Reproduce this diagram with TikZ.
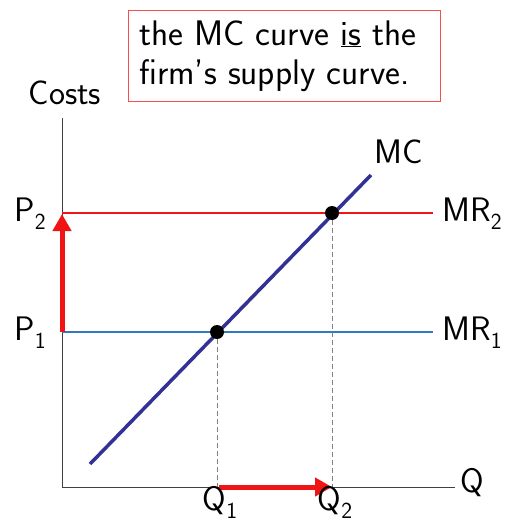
\documentclass[tikz,border=0pt]{standalone}
\usetikzlibrary{arrows.meta}
\definecolor{mrred}{RGB}{240,20,20}
\definecolor{mrblue}{RGB}{50,120,190}
\definecolor{mcblue}{RGB}{50,50,150}
\definecolor{boxred}{RGB}{245,80,80}
\newcommand{\lowsub}[1]{\raisebox{-8pt}{\fontsize{23}{23}\selectfont #1}}
\tikzset{
  lbl/.style={font=\sffamily\fontsize{34}{34}\selectfont, inner sep=0pt, anchor=base},
  axisline/.style={draw=black!75, line width=0.8pt},
  mrtwo/.style={draw=mrred, line width=2.5pt},
  mrone/.style={draw=mrblue, line width=2.5pt},
  mcline/.style={draw=mcblue, line width=3.5pt},
  guide/.style={draw=black!50, dashed, line width=0.8pt, dash pattern=on 5pt off 3pt},
  shiftarrow/.style={draw=mrred, line width=5pt, -{Triangle[length=17pt,width=18pt]}},
  eqdot/.style={circle, fill=black, minimum size=14pt, inner sep=0pt},
}
\begin{document}
\begin{tikzpicture}[x=1pt,y=-1pt]
\useasboundingbox (0,0) rectangle (510,522);
\fill[white] (0,0) rectangle (510,522);
% axes
\coordinate (O) at (62,487);
\coordinate (ytop) at (62,118);
\coordinate (xend) at (455,487);
\draw[axisline] (ytop) -- (O) -- (xend);
% MR lines
\coordinate (mr2s) at (62,213);
\coordinate (mr2e) at (433,213);
\coordinate (mr1s) at (62,332);
\coordinate (mr1e) at (433,332);
\draw[mrtwo] (mr2s) -- (mr2e);
\draw[mrone] (mr1s) -- (mr1e);
% MC
\coordinate (mcs) at (90,464);
\coordinate (mce) at (371,175);
\draw[mcline] (mcs) -- (mce);
% equilibrium dots
\node[eqdot] (e1) at (217,332) {};
\node[eqdot] (e2) at (332,213) {};
\coordinate (q1) at (217,487);
\coordinate (q2) at (332,487);
\draw[guide] (e1) -- (q1);
\draw[guide] (e2) -- (q2);
% shift arrows
\coordinate (pa) at (62,332);
\coordinate (pb) at (62,214);
\draw[shiftarrow] (pa) -- (pb);
\coordinate (qa) at (219,487);
\coordinate (qb) at (332,487);
\draw[shiftarrow] (qa) -- (qb);
% labels
\node[lbl] (costs) at (65,104) {Costs};
\node[lbl] (P2) at (30,221) {P\lowsub{2}};
\node[lbl] (P1) at (30,340) {P\lowsub{1}};
\node[lbl] (MR2) at (472,221) {MR\lowsub{2}};
\node[lbl] (MR1) at (472,340) {MR\lowsub{1}};
\node[lbl] (MC) at (399,163) {MC};
\node[lbl] (Q) at (472,492) {Q};
\node[lbl] (Q1) at (220,510) {Q\lowsub{1}};
\node[lbl] (Q2) at (335,510) {Q\lowsub{2}};
% text box
\draw[boxred, line width=1pt] (128,10) rectangle (440,101);
\node[lbl, anchor=base west, align=left, font=\sffamily\fontsize{35.5}{39}\selectfont] (note) at (139,84)
  {the MC curve \underline{is} the\\firm's supply curve.};
\end{tikzpicture}
\end{document}
